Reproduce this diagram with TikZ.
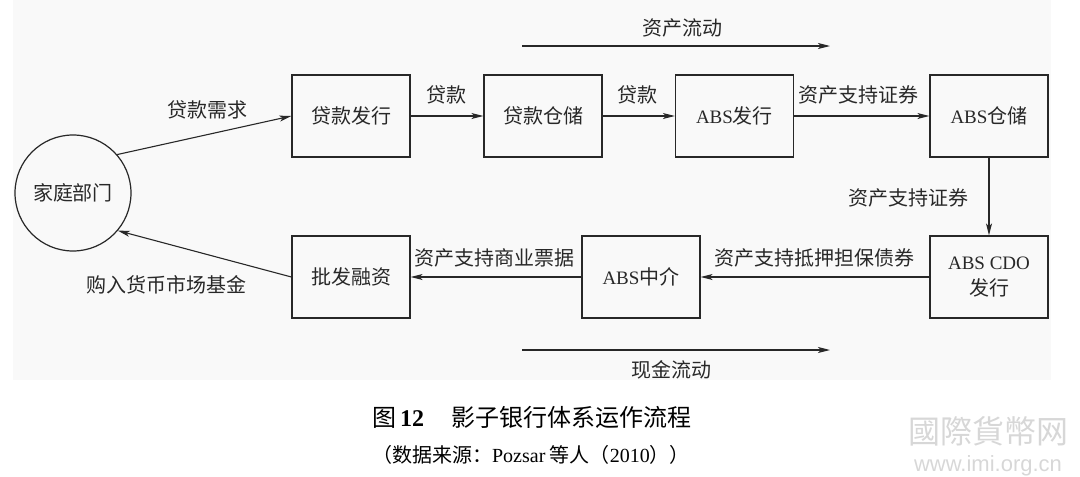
\documentclass[tikz,border=0pt]{standalone}
\usepackage{fontspec}
\setmainfont{Liberation Serif}
\newfontfamily\cjk{Noto Sans CJK SC}[BoldFont={Noto Sans CJK SC Bold}]
\newfontfamily\lat{Liberation Serif}
\newfontfamily\wmsans{Liberation Sans}
\usetikzlibrary{arrows.meta}
\definecolor{ink}{RGB}{40,40,40}
\definecolor{panel}{RGB}{249,249,249}
\definecolor{wm}{RGB}{215,215,215}
\newcommand\ABSx{{\fontsize{19}{22}\selectfont\lat ABS}}
\begin{document}
\begin{tikzpicture}[x=1pt,y=-1pt,
  font=\fontsize{20}{24}\selectfont\cjk,
  box/.style={draw=ink,line width=1.2pt,minimum width=118pt,minimum height=82pt,inner sep=0pt,text=ink},
  flow/.style={draw=ink,line width=1.1pt,-{Stealth[length=12pt,width=6pt,inset=3pt]}},
  lab/.style={text=ink,inner sep=0pt}]
\useasboundingbox (0,0) rectangle (1080,477);
\fill[panel] (13,0) rectangle (1051,380);
% nodes
\node[circle,draw=ink,line width=1.2pt,minimum size=116pt,inner sep=0pt,text=ink] (hh) at (73,193) {家庭部门};
\node[box] (b1) at (351,116) {贷款发行};
\node[box] (b2) at (543,116) {贷款仓储};
\node[box] (b3) at (734.5,116) {\ABSx 发行};
\node[box] (b4) at (989,116) {\ABSx 仓储};
\node[box,align=center,font=\fontsize{20}{26}\selectfont\cjk] (b5) at (989,277) {{\fontsize{19}{26}\selectfont\lat ABS CDO}\\发行};
\node[box] (b6) at (641,277) {\ABSx 中介};
\node[box] (b7) at (351,277) {批发融资};
% connectors
\draw[flow] (hh.41) -- (b1.west);
\draw[flow] (b1) -- (b2);
\draw[flow] (b2) -- (b3);
\draw[flow] (b3) -- (b4);
\draw[flow] (b4) -- (b5);
\draw[flow] (b5) -- (b6);
\draw[flow] (b6) -- (b7);
\draw[flow] (b7.west) -- (hh.-40);
% labels
\node[lab] (l1) at (207,110) {贷款需求};
\node[lab] (l2) at (446,95) {贷款};
\node[lab] (l3) at (637,95) {贷款};
\node[lab] (l4) at (858,95) {资产支持证券};
\node[lab] (l5) at (908,198) {资产支持证券};
\node[lab] (l6) at (814,258) {资产支持抵押担保债券};
\node[lab] (l7) at (494,258) {资产支持商业票据};
\node[lab] (l8) at (166,285) {购入货币市场基金};
% flow arrows
\coordinate (a1) at (522,46);
\coordinate (a2) at (830,46);
\draw[flow] (a1) -- (a2);
\node[lab] (t1) at (682,28) {资产流动};
\coordinate (c1) at (522,350);
\coordinate (c2) at (830,350);
\draw[flow] (c1) -- (c2);
\node[lab] (t2) at (671,370) {现金流动};
% caption
\node[inner sep=0pt,text=black] (cap1) at (532,417) {\fontsize{24}{28}\selectfont 图\,{\lat\bfseries 12}\hspace{1.15em}影子银行体系运作流程};
\node[inner sep=0pt,text=black] (cap2) at (531,455) {\fontsize{20}{24}\selectfont （数据来源：{\lat Pozsar} 等人（{\lat 2010}））};
% watermark
\node[inner sep=0pt,text=wm] (wm1) at (988,431) {\fontsize{32}{36}\selectfont 國際貨幣网};
\node[inner sep=0pt,text=wm] (wm2) at (988,466) {\fontsize{22}{24}\selectfont\wmsans www.imi.org.cn};
\end{tikzpicture}
\end{document}
